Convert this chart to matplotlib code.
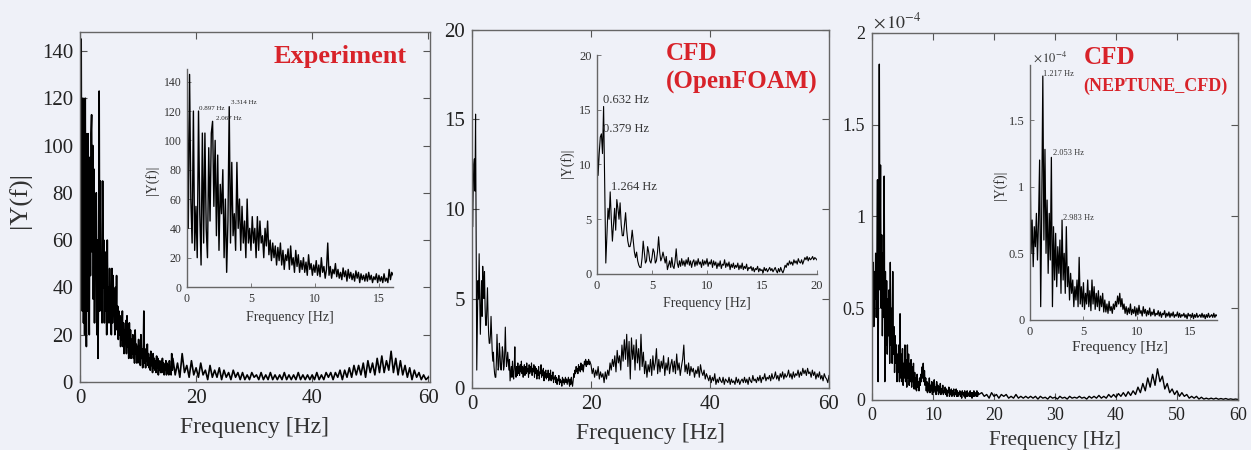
import numpy as np
import matplotlib.pyplot as plt
from matplotlib.ticker import FuncFormatter

plt.rcParams['font.family'] = ['Liberation Serif', 'DejaVu Serif']
plt.rcParams['mathtext.fontset'] = 'stix'

# ---- Дані ----
# Experiment: 0-16 Гц (крок 0.1) і 16-60 Гц (крок 0.4)
exp_low = [
    148, 40, 145, 60, 30, 120, 25, 55, 20, 120,
    50, 15, 105, 30, 105, 40, 20, 95, 45, 105,
    113, 55, 100, 35, 90, 25, 70, 50, 80, 20,
    60, 10, 45, 123, 30, 85, 35, 50, 25, 85,
    40, 60, 25, 55, 30, 45, 20, 60, 30, 40,
    25, 48, 30, 40, 20, 48, 25, 45, 30, 35,
    20, 40, 28, 45, 22, 32, 18, 30, 20, 28,
    15, 27, 18, 30, 15, 25, 12, 22, 18, 26,
    12, 28, 15, 20, 10, 25, 14, 22, 10, 18,
    12, 20, 10, 17, 8, 22, 12, 16, 8, 15,
    10, 18, 8, 15, 7, 20, 10, 14, 6, 12,
    30, 8, 14, 6, 12, 9, 16, 7, 12, 6,
    10, 5, 13, 7, 11, 4, 12, 6, 10, 5,
    9, 4, 11, 6, 10, 3, 9, 5, 8, 4,
    9, 4, 10, 5, 8, 3, 7, 5, 9, 3,
    8, 4, 7, 3, 9, 4, 6, 3, 12, 5,
]
exp_high = [
    10, 3, 8, 2, 12, 4, 7, 2, 9, 3,
    6, 2, 8, 3, 5, 1, 7, 2, 5, 2,
    6, 1, 5, 2, 4, 1, 5, 2, 4, 1,
    4, 1, 3, 1, 4, 2, 3, 1, 4, 1,
    3, 1, 4, 1, 3, 1, 3, 1, 4, 1,
    3, 1, 3, 1, 4, 1, 3, 1, 3, 1,
    3, 1, 4, 1, 3, 1, 4, 2, 4, 1,
    4, 2, 5, 1, 5, 2, 6, 2, 7, 3,
    7, 3, 8, 2, 9, 4, 8, 3, 10, 4,
    11, 4, 9, 5, 13, 4, 10, 3, 9, 3,
    7, 2, 6, 1, 5, 2, 4, 1, 3, 1,
    2,
]

# CFD (OpenFOAM): 0-20 Гц (крок 0.1) і 20-60 Гц (крок 0.2)
of_low = [
    14, 9, 11, 12.5, 12.8, 11, 15.3, 8, 1.0, 3.5,
    6, 5, 7.5, 5, 3, 4.5, 6, 4, 6.8, 6,
    5, 6.5, 4.5, 3.5, 3.5, 4.5, 5.6, 4, 3, 2.5,
    2.5, 3, 4, 3, 2, 1.5, 2, 1.2, 0.8, 0.6,
    0.6, 1.5, 3, 2, 1, 1.2, 2.5, 2, 1.2, 1,
    1.5, 2.3, 2, 1, 1.2, 2, 3.4, 2, 1.2, 1.5,
    2, 1.5, 1, 1.6, 0.4, 0.8, 1.2, 0.6, 1.5, 0.7,
    0.5, 1.2, 2.3, 1, 0.6, 1.2, 0.7, 1.4, 0.8, 1.2,
    0.7, 1.3, 0.9, 1.5, 0.8, 1.2, 0.6, 1.1, 1.3, 0.7,
    1.2, 0.8, 1.4, 0.9, 1.1, 0.6, 1.3, 0.8, 1.2, 0.9,
    1.4, 0.7, 1.1, 0.9, 1.3, 0.6, 1.2, 0.8, 1.1, 0.5,
    1.0, 0.7, 1.2, 0.5, 0.9, 0.8, 1.3, 0.6, 1.0, 0.7,
    1.1, 0.4, 0.9, 0.6, 1.0, 0.5, 0.8, 0.6, 1.0, 0.4,
    0.8, 0.5, 1.0, 0.4, 0.7, 0.5, 0.9, 0.3, 0.6, 0.5,
    0.7, 0.3, 0.6, 0.2, 0.5, 0.4, 0.7, 0.2, 0.5, 0.3,
    0.4, 0.1, 0.6, 0.3, 0.5, 0.2, 0.4, 0.6, 0.3, 0.5,
    0.2, 0.4, 0.6, 0.3, 0.1, 0.5, 0.2, 0.6, 0.3, 0.1,
    0.4, 0.8, 0.6, 1.0, 0.8, 1.2, 0.9, 1.1, 0.8, 1.3,
    1.0, 1.2, 0.9, 1.4, 1.1, 1.0, 1.3, 0.9, 1.2, 1.5,
    1.3, 1.6, 1.2, 1.5, 1.3, 1.4, 1.6, 1.3, 1.5, 1.4,
]
of_high = [
    1.3, 0.8, 1.1, 0.6, 1.0, 0.7, 1.2, 0.5, 0.9, 0.6,
    0.8, 0.3, 0.9, 0.5, 1.0, 0.7, 1.4, 1.0, 1.6, 1.2,
    1.8, 0.9, 2.1, 1.4, 1.8, 1.0, 2.4, 1.5, 2.7, 1.6,
    3.0, 1.2, 2.6, 0.5, 2.8, 1.6, 2.4, 1.0, 2.7, 1.4,
    2.2, 1.0, 3.0, 1.2, 2.0, 0.8, 1.5, 0.6, 1.3, 0.9,
    1.6, 0.7, 1.8, 1.0, 1.4, 2.2, 0.8, 1.6, 0.9, 1.5,
    1.1, 1.8, 0.7, 1.4, 1.0, 1.7, 0.8, 1.3, 1.6, 0.9,
    1.5, 0.8, 1.9, 1.0, 1.4, 0.7, 1.2, 1.6, 2.4, 0.9,
    1.3, 0.8, 1.4, 0.7, 1.2, 0.9, 1.1, 0.6, 1.0, 0.8,
    1.2, 0.6, 1.3, 0.9, 0.7, 1.0, 0.5, 0.8, 0.6, 0.4,
    0.7, 0.3, 0.6, 0.4, 0.8, 0.2, 0.5, 0.3, 0.6, 0.4,
    0.3, 0.6, 0.2, 0.5, 0.4, 0.3, 0.6, 0.2, 0.5, 0.3,
    0.4, 0.2, 0.6, 0.3, 0.5, 0.2, 0.4, 0.5, 0.3, 0.6,
    0.3, 0.5, 0.2, 0.6, 0.4, 0.3, 0.7, 0.4, 0.5, 0.3,
    0.6, 0.4, 0.7, 0.3, 0.6, 0.5, 0.8, 0.4, 0.6, 0.5,
    0.7, 0.4, 0.8, 0.5, 0.6, 0.9, 0.5, 0.7, 0.4, 0.8,
    0.6, 0.9, 0.5, 0.8, 0.6, 0.7, 1.0, 0.6, 0.8, 0.5,
    0.9, 0.6, 0.8, 0.7, 1.0, 0.6, 0.9, 0.7, 1.1, 0.8,
    1.0, 0.7, 1.1, 0.8, 0.9, 0.6, 1.0, 0.7, 0.9, 0.5,
    0.8, 0.6, 0.9, 0.5, 0.7, 0.4, 0.8, 0.6, 0.5, 0.3,
    0.7,
]

# CFD (NEPTUNE_CFD), одиниці 1e-4: 0-17.5 Гц (крок 0.1) і 18-60 Гц (крок 0.4)
nep_low = [
    1.3, 0.5, 0.75, 0.4, 0.7, 0.55, 0.8, 0.45, 0.75, 1.2,
    0.1, 0.85, 1.83, 0.6, 1.28, 0.5, 0.9, 0.35, 0.8, 0.45,
    1.22, 0.1, 0.7, 0.3, 0.65, 0.25, 0.55, 0.35, 0.6, 0.2,
    0.75, 0.3, 0.5, 0.2, 0.7, 0.25, 0.4, 0.15, 0.35, 0.2,
    0.3, 0.1, 0.25, 0.15, 0.3, 0.1, 0.47, 0.12, 0.25, 0.1,
    0.28, 0.08, 0.2, 0.12, 0.3, 0.1, 0.22, 0.07, 0.3, 0.12,
    0.25, 0.08, 0.2, 0.1, 0.22, 0.07, 0.18, 0.1, 0.2, 0.06,
    0.15, 0.06, 0.12, 0.05, 0.14, 0.07, 0.1, 0.05, 0.12, 0.08,
    0.14, 0.1, 0.18, 0.12, 0.2, 0.1, 0.16, 0.08, 0.12, 0.05,
    0.1, 0.04, 0.09, 0.05, 0.12, 0.04, 0.08, 0.05, 0.1, 0.03,
    0.09, 0.04, 0.11, 0.05, 0.07, 0.03, 0.1, 0.05, 0.08, 0.03,
    0.07, 0.04, 0.09, 0.03, 0.06, 0.04, 0.08, 0.03, 0.05, 0.04,
    0.07, 0.03, 0.06, 0.02, 0.05, 0.04, 0.07, 0.02, 0.05, 0.03,
    0.06, 0.02, 0.05, 0.03, 0.06, 0.02, 0.04, 0.03, 0.06, 0.02,
    0.05, 0.02, 0.04, 0.03, 0.05, 0.02, 0.04, 0.01, 0.05, 0.03,
    0.04, 0.02, 0.05, 0.01, 0.04, 0.02, 0.05, 0.02, 0.03, 0.04,
    0.02, 0.05, 0.02, 0.04, 0.01, 0.04, 0.02, 0.05, 0.02, 0.03,
    0.04, 0.02, 0.05, 0.02, 0.04, 0.03,
]
nep_high = [
    0.04, 0.02, 0.03, 0.01, 0.04, 0.02, 0.03, 0.01, 0.03, 0.02,
    0.03, 0.01, 0.02, 0.01, 0.03, 0.01, 0.02, 0.01, 0.02, 0.01,
    0.02, 0.01, 0.02, 0.005, 0.02, 0.01, 0.015, 0.005, 0.02, 0.01,
    0.015, 0.005, 0.02, 0.01, 0.015, 0.005, 0.02, 0.01, 0.015, 0.01,
    0.02, 0.01, 0.015, 0.005, 0.02, 0.01, 0.02, 0.01, 0.025, 0.01,
    0.02, 0.01, 0.03, 0.015, 0.03, 0.015, 0.035, 0.02, 0.04, 0.02,
    0.045, 0.025, 0.05, 0.03, 0.07, 0.04, 0.09, 0.05, 0.12, 0.07,
    0.14, 0.08, 0.17, 0.1, 0.13, 0.06, 0.09, 0.04, 0.06, 0.03,
    0.05, 0.02, 0.04, 0.02, 0.03, 0.01, 0.02, 0.01, 0.02, 0.005,
    0.015, 0.005, 0.01, 0.005, 0.01, 0.005, 0.01, 0.004, 0.008, 0.004,
    0.008, 0.003, 0.006, 0.003, 0.005, 0.003,
]

# частотні сітки
exp_f = np.concatenate([0.1 * np.arange(len(exp_low)), 16 + 0.4 * np.arange(len(exp_high))])
exp_y = np.array(exp_low + exp_high, dtype=float)
of_f = np.concatenate([0.1 * np.arange(len(of_low)), 20 + 0.2 * np.arange(len(of_high))])
of_y = np.array(of_low + of_high, dtype=float)
nep_f = np.concatenate([0.1 * np.arange(len(nep_low)), 18 + 0.4 * np.arange(len(nep_high))])
nep_y = np.array(nep_low + nep_high, dtype=float)

W, H = 1251, 450
BG = '#eff1f8'
RED = '#d8232a'
fig = plt.figure(figsize=(W / 100, H / 100), dpi=100, facecolor=BG)

# підписи як у MATLAB: 0, 0.5, 1, 1.5, 2
matlab_fmt = FuncFormatter(lambda v, pos: f'{v:g}')


def px_axes(left, top, right, bottom):
    return fig.add_axes([left / W, 1 - bottom / H, (right - left) / W, (bottom - top) / H])


def px_text(x, y, s, **kw):
    kw.setdefault('ha', 'center')
    kw.setdefault('va', 'center')
    fig.text(x / W, 1 - y / H, s, **kw)


def main_panel(box, f, y, xlim, ylim, xticks, yticks, fs, lw):
    ax = px_axes(*box)
    ax.set_facecolor('none')
    ax.plot(f, y, color='black', lw=lw)
    ax.set_xlim(*xlim)
    ax.set_ylim(*ylim)
    ax.set_xticks(xticks)
    ax.set_yticks(yticks)
    ax.yaxis.set_major_formatter(matlab_fmt)
    ax.tick_params(direction='in', top=True, right=True, length=5, width=0.8,
                   colors='#555555', labelcolor='#222222', labelsize=fs, pad=5)
    for s in ax.spines.values():
        s.set_color('#666666')
        s.set_linewidth(1.0)
    return ax


def inset_panel(box, f, y, xlim, ylim, xticks, yticks, fs, lw):
    ax = px_axes(*box)
    ax.set_facecolor('none')
    ax.plot(f, y, color='black', lw=lw)
    ax.set_xlim(*xlim)
    ax.set_ylim(*ylim)
    ax.set_xticks(xticks)
    ax.set_yticks(yticks)
    ax.yaxis.set_major_formatter(matlab_fmt)
    ax.spines['top'].set_visible(False)
    ax.spines['right'].set_visible(False)
    for s in ('left', 'bottom'):
        ax.spines[s].set_color('#666666')
        ax.spines[s].set_linewidth(1.0)
    ax.tick_params(direction='in', length=3, width=0.6, colors='#666666',
                   labelcolor='#333333', labelsize=fs, pad=4)
    return ax


# ---- Панель 1: Experiment ----
main_panel((80, 32, 430, 382), exp_f, exp_y, (0, 60.3), (0, 148),
           [0, 20, 40, 60], np.arange(0, 141, 20), 15, 1.2)
px_text(20, 200, '|Y(f)|', rotation=90, fontsize=19, color='#333333')
px_text(255, 428, 'Frequency [Hz]', fontsize=17, color='#333333')
px_text(340, 57, 'Experiment', fontsize=19, fontweight='bold', color=RED)

inset_panel((187, 69, 393, 287), exp_f, exp_y, (0, 16.1), (0, 148.7),
            [0, 5, 10, 15], np.arange(0, 141, 20), 8.5, 1.0)
px_text(152, 180, '|Y(f)|', rotation=90, fontsize=10, color='#333333')
px_text(290, 317, 'Frequency [Hz]', fontsize=10, color='#333333')
px_text(199, 109, '0.897 Hz', ha='left', fontsize=5, color='#222222')
px_text(216, 118, '2.067 Hz', ha='left', fontsize=5, color='#222222')
px_text(231, 103, '3.314 Hz', ha='left', fontsize=5, color='#222222')

# ---- Панель 2: CFD (OpenFOAM) ----
main_panel((472, 30, 829, 388), of_f, of_y, (0, 60), (0, 20),
           [0, 20, 40, 60], [0, 5, 10, 15, 20], 15, 0.8)
px_text(651, 433, 'Frequency [Hz]', fontsize=17, color='#333333')
px_text(666, 53, 'CFD', ha='left', fontsize=18, fontweight='bold', color=RED)
px_text(666, 82, '(OpenFOAM)', ha='left', fontsize=18, fontweight='bold', color=RED)

inset_panel((597, 55, 817, 274), of_f, of_y, (0, 20), (0, 20),
            [0, 5, 10, 15, 20], [0, 5, 10, 15, 20], 9, 0.8)
px_text(567, 163, '|Y(f)|', rotation=90, fontsize=10, color='#333333')
px_text(707, 303, 'Frequency [Hz]', fontsize=10, color='#333333')
px_text(603, 100, '0.632 Hz', ha='left', fontsize=9, color='#333333')
px_text(603, 129, '0.379 Hz', ha='left', fontsize=9, color='#333333')
px_text(611, 187, '1.264 Hz', ha='left', fontsize=9, color='#333333')

# ---- Панель 3: CFD (NEPTUNE_CFD) ----
main_panel((872, 33, 1238, 400), nep_f, nep_y, (0, 60), (0, 2),
           np.arange(0, 61, 10), [0, 0.5, 1, 1.5, 2], 13, 1.0)
px_text(897, 22, r'$\times\,10^{-4}$', fontsize=13, color='#333333')
px_text(1055, 440, 'Frequency [Hz]', fontsize=15, color='#333333')
px_text(1084, 57, 'CFD', ha='left', fontsize=18, fontweight='bold', color=RED)
px_text(1083, 86, '(NEPTUNE_CFD)', ha='left', fontsize=13, fontweight='bold', color=RED)

inset_panel((1030, 65, 1217, 320), nep_f, nep_y, (0, 17.5), (0, 1.913),
            [0, 5, 10, 15], [0, 0.5, 1, 1.5], 9, 0.9)
px_text(1050, 57, r'$\times\,10^{-4}$', fontsize=9, color='#333333')
px_text(1000, 185, '|Y(f)|', rotation=90, fontsize=10, color='#333333')
px_text(1120, 348, 'Frequency [Hz]', fontsize=11, color='#333333')
px_text(1043, 74, '1.217 Hz', ha='left', fontsize=6, color='#333333')
px_text(1053, 153, '2.053 Hz', ha='left', fontsize=6, color='#333333')
px_text(1063, 218, '2.983 Hz', ha='left', fontsize=6, color='#333333')

fig.savefig('out.png', dpi=100, facecolor=BG)
